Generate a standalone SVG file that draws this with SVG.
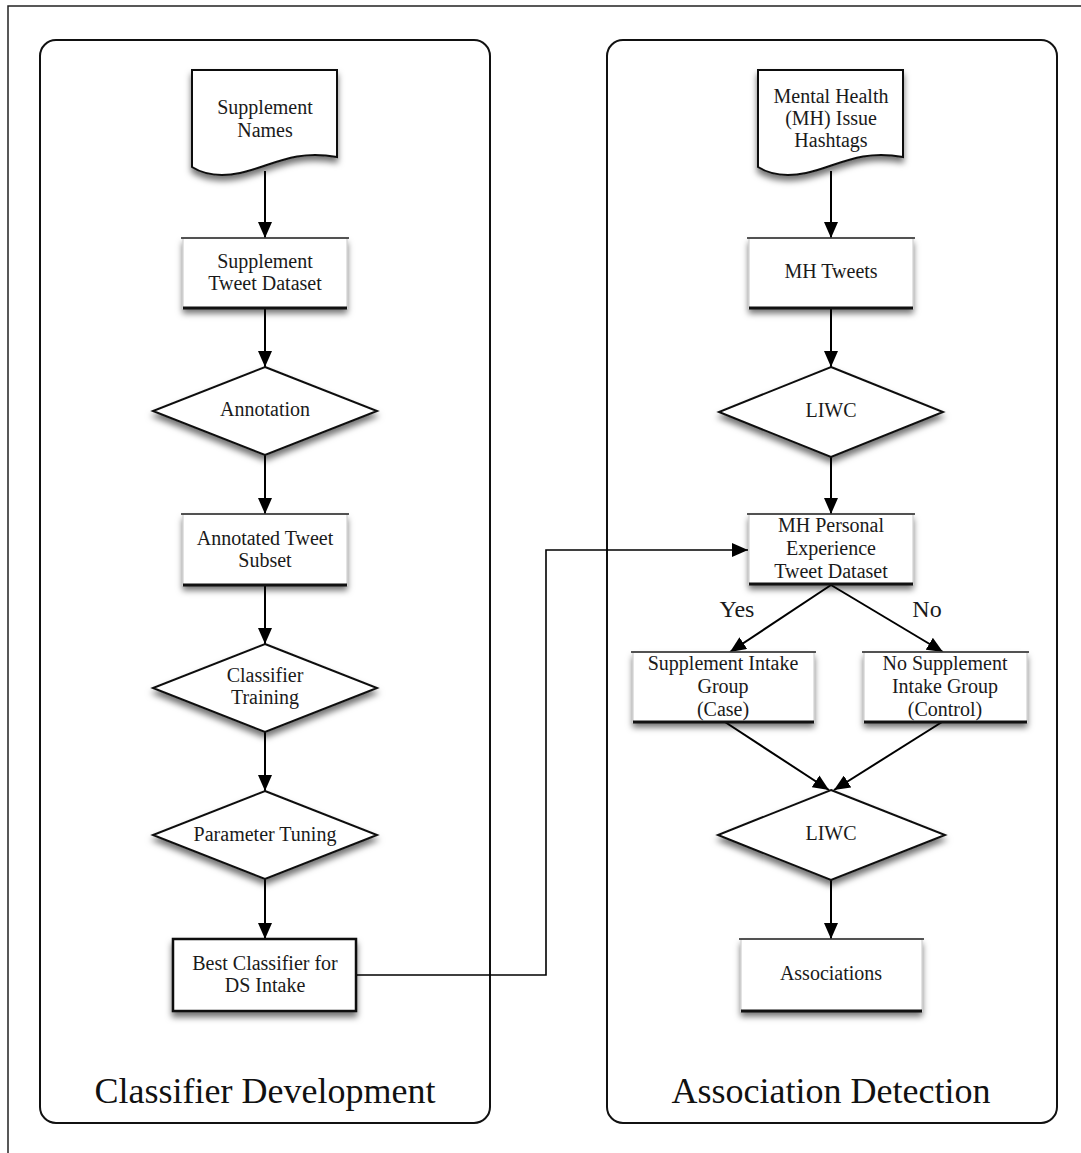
<svg xmlns="http://www.w3.org/2000/svg" width="1081" height="1153" viewBox="0 0 1081 1153">
<defs>
<filter id="sh" x="-20%" y="-20%" width="140%" height="160%">
<feDropShadow dx="0" dy="5" stdDeviation="3" flood-color="#000" flood-opacity="0.55"/>
</filter>
<marker id="ah" markerUnits="userSpaceOnUse" markerWidth="16" markerHeight="14" refX="16" refY="7" orient="auto">
<path d="M0,0 L16,7 L0,14 z" fill="#000"/>
</marker>
</defs>
<style>
text{font-family:"Liberation Serif","Times New Roman",serif;fill:#1a1a1a;text-anchor:middle;font-size:20px}
.title{font-size:36px;fill:#111}
.lab{font-size:24px}
.panel{fill:none;stroke:#111;stroke-width:2}
.doc,.dia{fill:#fff;stroke:#111;stroke-width:2;filter:url(#sh)}
.box{fill:#fff;stroke:#c8c8c8;stroke-width:1;filter:url(#sh)}
.top{stroke:#222;stroke-width:1.5}
.bot{stroke:#111;stroke-width:3}
.con{fill:none;stroke:#000;stroke-width:2;marker-end:url(#ah)}
.thin{stroke-width:1.6}
</style>
<rect width="1081" height="1153" fill="#fff"/>
<path d="M8,1153 V6 H1081" fill="none" stroke="#222" stroke-width="1.5"/>
<g id="panel-left">
<rect class="panel" x="40" y="40" width="450" height="1083" rx="16"/>
<text class="title" x="265" y="1103">Classifier Development</text>
</g>
<g id="panel-right">
<rect class="panel" x="607" y="40" width="450" height="1083" rx="16"/>
<text class="title" x="831" y="1103">Association Detection</text>
</g>

<g id="connectors">
<line class="con" x1="265" y1="171" x2="265" y2="238"/>
<line class="con" x1="265" y1="308" x2="265" y2="367"/>
<line class="con" x1="265" y1="455" x2="265" y2="514"/>
<line class="con" x1="265" y1="585" x2="265" y2="644"/>
<line class="con" x1="265" y1="732" x2="265" y2="791"/>
<line class="con" x1="265" y1="879" x2="265" y2="939"/>
<path class="con thin" d="M356,975 H546 V550 H748"/>
<line class="con" x1="831" y1="171" x2="831" y2="238"/>
<line class="con" x1="831" y1="308" x2="831" y2="367"/>
<line class="con" x1="831" y1="457" x2="831" y2="514"/>
<line class="con" x1="831" y1="585" x2="730" y2="652"/>
<line class="con" x1="831" y1="585" x2="943" y2="652"/>
<line class="con" x1="725" y1="722" x2="829" y2="790"/>
<line class="con" x1="942" y1="722" x2="834" y2="790"/>
<line class="con" x1="831" y1="880" x2="831" y2="939"/>
<text class="lab" x="737" y="617">Yes</text>
<text class="lab" x="927" y="617">No</text>
</g>

<g id="supplement-names">
<path class="doc" d="M192,70 H337 V157 C292,149 270,167 240,173 C215,178 200,172 192,167 Z"/>
<text x="265" y="114">Supplement</text>
<text x="265" y="137">Names</text>
</g>
<g id="supplement-tweet-dataset">
<rect class="box" x="183" y="238" width="164" height="70"/>
<line class="top" x1="181" y1="238" x2="349" y2="238"/>
<line class="bot" x1="183" y1="308" x2="347" y2="308"/>
<text x="265" y="268">Supplement</text>
<text x="265" y="290">Tweet Dataset</text>
</g>
<g id="annotation">
<polygon class="dia" points="265,367 377,411 265,455 153,411"/>
<text x="265" y="416">Annotation</text>
</g>
<g id="annotated-tweet-subset">
<rect class="box" x="183" y="514" width="164" height="71"/>
<line class="top" x1="181" y1="514" x2="349" y2="514"/>
<line class="bot" x1="183" y1="585" x2="347" y2="585"/>
<text x="265" y="545">Annotated Tweet</text>
<text x="265" y="567">Subset</text>
</g>
<g id="classifier-training">
<polygon class="dia" points="265,644 377,688 265,732 153,688"/>
<text x="265" y="682">Classifier</text>
<text x="265" y="704">Training</text>
</g>
<g id="parameter-tuning">
<polygon class="dia" points="265,791 377,835 265,879 153,835"/>
<text x="265" y="841">Parameter Tuning</text>
</g>
<g id="best-classifier">
<rect x="173" y="939" width="183" height="72" fill="#fff" stroke="#111" stroke-width="2.5" filter="url(#sh)"/>
<text x="265" y="970">Best Classifier for</text>
<text x="265" y="992">DS Intake</text>
</g>

<g id="mh-hashtags">
<path class="doc" transform="translate(566,0)" d="M192,70 H337 V157 C292,149 270,167 240,173 C215,178 200,172 192,167 Z"/>
<text x="831" y="103">Mental Health</text>
<text x="831" y="125">(MH) Issue</text>
<text x="831" y="147">Hashtags</text>
</g>
<g id="mh-tweets">
<rect class="box" x="749" y="238" width="164" height="70"/>
<line class="top" x1="747" y1="238" x2="915" y2="238"/>
<line class="bot" x1="749" y1="308" x2="913" y2="308"/>
<text x="831" y="278">MH Tweets</text>
</g>
<g id="liwc-1">
<polygon class="dia" points="831,367 943,412 831,457 719,412"/>
<text x="831" y="417">LIWC</text>
</g>
<g id="mh-personal">
<rect class="box" x="749" y="514" width="164" height="70"/>
<line class="top" x1="747" y1="514" x2="915" y2="514"/>
<line class="bot" x1="749" y1="584" x2="913" y2="584"/>
<text x="831" y="532">MH Personal</text>
<text x="831" y="555">Experience</text>
<text x="831" y="578">Tweet Dataset</text>
</g>
<g id="case-group">
<rect class="box" x="633" y="652" width="181" height="70"/>
<line class="top" x1="631" y1="652" x2="816" y2="652"/>
<line class="bot" x1="633" y1="722" x2="814" y2="722"/>
<text x="723" y="670">Supplement Intake</text>
<text x="723" y="693">Group</text>
<text x="723" y="716">(Case)</text>
</g>
<g id="control-group">
<rect class="box" x="864" y="652" width="163" height="70"/>
<line class="top" x1="862" y1="652" x2="1029" y2="652"/>
<line class="bot" x1="864" y1="722" x2="1027" y2="722"/>
<text x="945" y="670">No Supplement</text>
<text x="945" y="693">Intake Group</text>
<text x="945" y="716">(Control)</text>
</g>
<g id="liwc-2">
<polygon class="dia" points="831,790 945,835 831,880 718,835"/>
<text x="831" y="840">LIWC</text>
</g>
<g id="associations">
<rect class="box" x="741" y="939" width="181" height="72"/>
<line class="top" x1="739" y1="939" x2="924" y2="939"/>
<line class="bot" x1="741" y1="1011" x2="922" y2="1011"/>
<text x="831" y="980">Associations</text>
</g>
</svg>
